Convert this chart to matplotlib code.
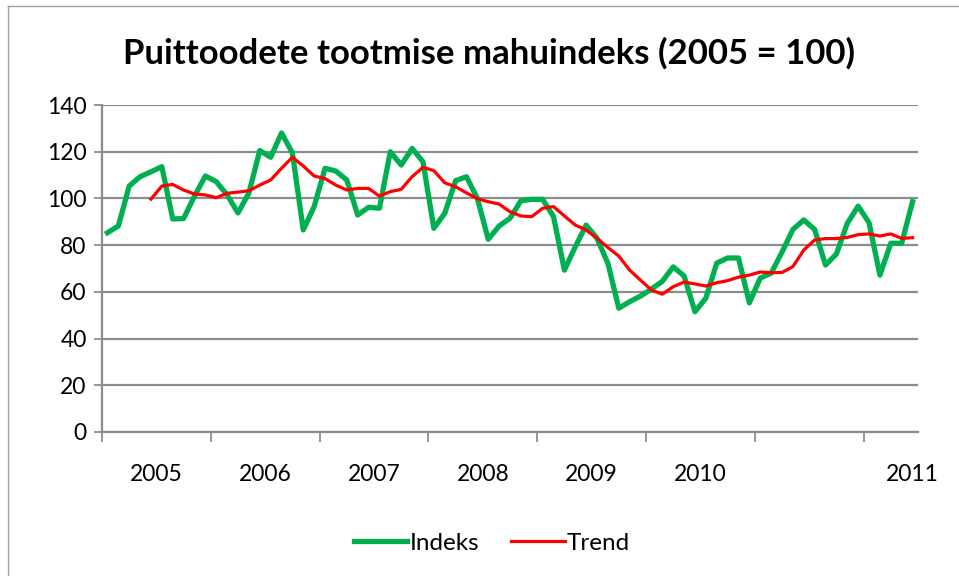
import matplotlib
matplotlib.use("Agg")
import matplotlib.pyplot as plt
import numpy as np

# Index values (2005 = 100), one point per period
indeks = [85.3, 88.2, 105.3, 109.3, 111.4, 113.6, 91.2, 91.4, 101, 109.6,
          107.2, 101.5, 93.8, 102.3, 120.5, 117.6, 128, 119.5, 86.5, 96.5,
          112.9, 111.7, 107.9, 92.9, 96.2, 95.8, 120, 114.3, 121.4, 115.7,
          87.2, 93.6, 107.6, 109.3, 100, 82.5, 88.2, 91.5, 99, 99.6,
          99.6, 92.2, 69.3, 79.3, 88.6, 82.9, 72.2, 53, 55.8, 58.2,
          61.2, 64.5, 70.7, 66.8, 51.5, 57.3, 72.3, 74.5, 74.5, 55.3,
          65.9, 68, 77, 86.7, 90.8, 86.7, 71.5, 76.2, 89.3, 96.7,
          89.6, 67.2, 80.8, 80.8, 98.6]

# Trend starts at the 5th point
trend_start = 4
trend = [99.7, 105.3, 106, 103.6, 101.9, 101.5, 100.3, 102.2, 102.7, 103.3,
         105.7, 107.9, 112.9, 117.6, 113.9, 109.6, 108.5, 105.7, 103.6, 104.3,
         104.3, 101, 102.9, 103.9, 109.3, 113.3, 111.9, 106.7, 105, 102.4,
         99.9, 98.6, 97.6, 94.3, 92.5, 92.2, 95.8, 96.5, 92.5, 88.6,
         86.5, 82.9, 79, 75.3, 69.3, 65, 60.8, 59, 62.2, 64.2,
         63.4, 62.5, 63.9, 64.8, 66.3, 67.2, 68.5, 68.2, 68.3, 70.8,
         77.9, 82.2, 82.8, 82.8, 83.3, 84.5, 84.8, 83.9, 84.8, 82.9, 83.2]

year_labels = ["2005", "2006", "2007", "2008", "2009", "2010", "2011"]
year_label_pos = [4.5, 14.5, 24.5, 34.5, 44.5, 54.5, 74]
group_size = 10

font = "Lato"
grey = "#8c8c8c"

fig = plt.figure(figsize=(9.59, 5.78), dpi=100)
ax = fig.add_axes([102 / 959, (578 - 432) / 578, (918 - 102) / 959, (432 - 105) / 578])

x = np.arange(len(indeks))
xt = np.arange(trend_start, trend_start + len(trend))
ax.plot(x, indeks, color="#00B050", lw=3.8, label="Indeks", zorder=3)
ax.plot(xt, trend, color="#FF0000", lw=2.3, label="Trend", zorder=4)

ax.set_xlim(-0.5, len(indeks) - 0.5)
ax.set_ylim(0, 140)
ax.set_yticks(range(0, 141, 20))
ax.yaxis.grid(True, color=grey, lw=1.6)
ax.set_axisbelow(True)

# category boundaries as major ticks, year labels as minor ticks
ax.set_xticks(np.arange(-0.5, len(indeks), group_size))
ax.set_xticklabels([])
ax.set_xticks(year_label_pos, minor=True)
ax.set_xticklabels(year_labels, minor=True)
ax.tick_params(axis="x", which="major", length=7, width=1.3, color=grey)
ax.tick_params(axis="x", which="minor", length=0, pad=23)
ax.tick_params(axis="y", length=6, width=1.3, color=grey, pad=5)
for lab in ax.get_xticklabels(minor=True) + ax.get_yticklabels():
    lab.set_fontfamily(font)
    lab.set_fontsize(16.5)

for s in ["top", "right"]:
    ax.spines[s].set_visible(False)
for s in ["left", "bottom"]:
    ax.spines[s].set_color(grey)
    ax.spines[s].set_linewidth(1.6)

fig.text(489 / 959, 1 - 53 / 578, "Puittoodete tootmise mahuindeks (2005 = 100)",
         ha="center", va="center", fontsize=25, fontweight="bold", family=font)

leg = fig.legend(loc="center", bbox_to_anchor=(492 / 959, 1 - 543 / 578), ncol=2,
                 frameon=False, prop={"family": font, "size": 17.5},
                 handlelength=2.2, handletextpad=0.1, columnspacing=1.3)

# chart frame
fig.add_artist(plt.Line2D([8 / 959, 8 / 959], [1 - 6 / 578, 1 - 575 / 578], color="#a0a0a0", lw=1))
fig.add_artist(plt.Line2D([8 / 959, 1], [1 - 6 / 578, 1 - 6 / 578], color="#a0a0a0", lw=1))

fig.savefig("out.png", dpi=100)
